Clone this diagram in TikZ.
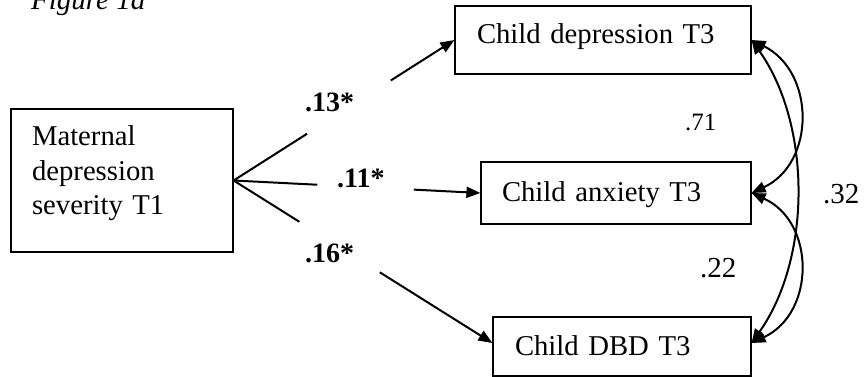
\documentclass[tikz,border=0pt]{standalone}
\usepackage{fontspec}
\setmainfont{Liberation Serif}
\usetikzlibrary{arrows.meta}
\begin{document}
\begin{tikzpicture}[x=1pt,y=-1pt,
  box/.style={draw,line width=1.2pt,rectangle,align=left,inner ysep=0pt,font=\fontsize{28.7}{34.5}\selectfont},
  conn/.style={line width=2pt},
  tip/.style={-{Triangle[length=14pt,width=11pt]}},
  both/.style={{Triangle[length=14pt,width=11pt]}-{Triangle[length=14pt,width=11pt]}},
  coef/.style={font=\fontsize{28}{30}\selectfont\bfseries,anchor=base west,inner sep=0pt},
  corr/.style={font=\fontsize{29}{30}\selectfont,anchor=base west,inner sep=0pt},
]
\useasboundingbox (0,0) rectangle (865,377);
\node[anchor=base west,inner sep=0pt,font=\fontsize{29}{30}\selectfont\itshape] (fig) at (31,9.5) {Figure 1a};
\node[box,minimum width=222pt,minimum height=143pt,inner xsep=21pt,text width=180pt,text height=20pt,text depth=89pt] (m) at (122,180.5) {Maternal\\depression\\severity T1};
\node[box,minimum width=296pt,minimum height=68pt,inner xsep=22pt,text width=252pt,text height=20pt,text depth=12pt] (c1) at (603,40) {Child depression T3};
\node[box,minimum width=270pt,minimum height=62pt,inner xsep=21pt,text width=228pt,text height=20pt,text depth=4pt] (c2) at (616,193) {Child anxiety T3};
\node[box,minimum width=258pt,minimum height=59pt,inner xsep=22pt,text width=214pt,text height=20pt,text depth=3pt] (c3) at (622,346.5) {Child DBD T3};

\coordinate (c3w) at ([yshift=3.5pt]c3.west);
\coordinate (c3e) at ([yshift=3.5pt]c3.east);

\path (m.east) -- (c1.west) coordinate[pos=0.333] (g1a) coordinate[pos=0.712] (g1b);
\path (m.east) -- (c2.west) coordinate[pos=0.339] (g2a) coordinate[pos=0.73] (g2b);
\path (m.east) -- (c3w) coordinate[pos=0.254] (g3a) coordinate[pos=0.565] (g3b);
\draw[conn] (m.east) -- (g1a);
\draw[conn,tip] (g1b) -- (c1.west);
\draw[conn] (m.east) -- (g2a);
\draw[conn,tip] (g2b) -- (c2.west);
\draw[conn] (m.east) -- (g3a);
\draw[conn,tip] (g3b) -- (c3w);

\node[coef] (l13) at (305,112) {.13*};
\node[coef] (l11) at (337,187) {.11*};
\node[coef] (l16) at (305,262) {.16*};

\draw[conn,both] (c1.east) .. controls +(64,32) and +(64,-30) .. (c2.east);
\draw[conn,both] (c2.east) .. controls +(64,29) and +(64,-30) .. (c3e);
\draw[conn,both] (c1.east) .. controls +(60,85) and +(60,-85) .. (c3e);

\node[corr,font=\fontsize{25}{30}\selectfont] (r71) at (685,131) {.71};
\node[corr] (r22) at (700,277) {.22};
\node[corr] (r32) at (823,203) {.32};
\end{tikzpicture}
\end{document}
